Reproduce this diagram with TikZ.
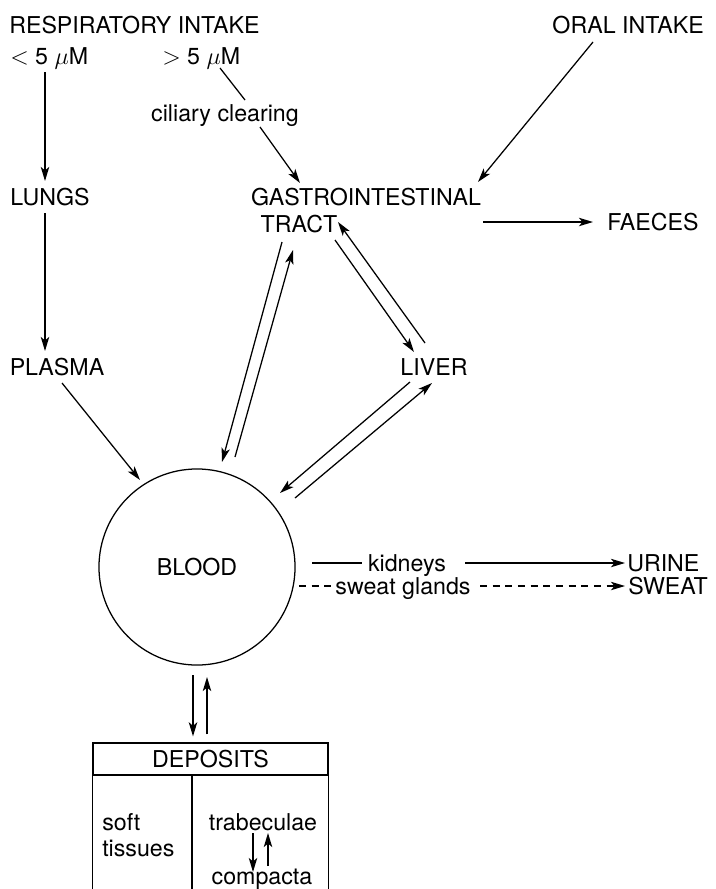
\documentclass[tikz,border=0pt]{standalone}
\usepackage{fontspec}
\setmainfont{TeX Gyre Heros}
\usetikzlibrary{arrows.meta}
\tikzset{
  lbl/.style={font=\fontsize{16.5}{19}\selectfont, inner sep=0pt, anchor=base},
  ln/.style={line width=0.9pt},
  arr/.style={ln, -{Stealth[length=10pt,width=6pt,inset=2.5pt]}},
  dsh/.style={arr, dash pattern=on 5pt off 4pt},
}
\begin{document}
\begin{tikzpicture}[x=0.025cm, y=-0.025cm]
\useasboundingbox (0,0) rectangle (716,889);
% intakes
\node[lbl, anchor=base west] (resp) at (9,33) {RESPIRATORY INTAKE};
\node[lbl, anchor=base west] (small) at (10,64) {$<$ 5 $\mu$M};
\node[lbl, anchor=base west] (large) at (162,64) {$>$ 5 $\mu$M};
\node[lbl, anchor=base east] (oral) at (704,33) {ORAL INTAKE};
\node[lbl] (ciliary) at (225,121) {ciliary clearing};
% organs
\node[lbl] (lungs) at (50,205) {LUNGS};
\node[lbl] (git) at (366,205) {GASTROINTESTINAL};
\node[lbl] (tract) at (299,232) {TRACT};
\node[lbl, anchor=base west] (faeces) at (607,230) {FAECES};
\node[lbl] (plasma) at (57,375) {PLASMA};
\node[lbl] (liver) at (434,375) {LIVER};
% blood pool
\node[ln, draw, circle, minimum size=4.9cm, inner sep=0pt, font=\fontsize{16.5}{19}\selectfont] (blood) at (197,567) {BLOOD};
% excretion
\node[lbl] (kidneys) at (407,571) {kidneys};
\node[lbl, anchor=base west] (urine) at (627,571) {URINE};
\node[lbl] (sweatgl) at (403,594) {sweat glands};
\node[lbl, anchor=base west] (sweat) at (628,594) {SWEAT};
% deposits table
\node[ln, draw, minimum width=5.875cm, minimum height=0.8cm, inner sep=0pt, font=\fontsize{16.5}{19}\selectfont] (deposits) at (210.5,759) {DEPOSITS};
\coordinate (bot) at (0,889);
\coordinate (div) at ([shift={(-18.5,0)}]deposits.south);
\draw[ln] (deposits.south west) -- (deposits.south west |- bot);
\draw[ln] (deposits.south east) -- (deposits.south east |- bot);
\draw[ln] (div) -- (div |- bot);
\node[lbl, anchor=base west] (soft) at (102,830) {soft};
\node[lbl, anchor=base west] (tissues) at (102,856) {tissues};
\node[lbl] (trab) at (263,830) {trabeculae};
\node[lbl] (comp) at (262,884) {compacta};
% respiratory paths
\draw[arr] ([shift={(35,8)}]small.base west) -- ([shift={(-5,-24)}]lungs.base);
\draw[arr] ([shift={(-5,8)}]lungs.base) -- ([shift={(-12,-24)}]plasma.base);
\draw[arr] ([shift={(5,8)}]plasma.base) -- ([shift={(-57,-87)}]blood.center);
\draw[ln] ([shift={(58,4)}]large.base west) -- ([shift={(20,-21)}]ciliary.base);
\draw[arr] ([shift={(35,6)}]ciliary.base) -- ([shift={(-66,-22)}]git.base);
% oral path and faeces
\draw[arr] ([shift={(-111,9)}]oral.base east) -- ([shift={(112,-23)}]git.base);
\draw[arr] ([shift={(117,17)}]git.base) -- ([shift={(-14,-8)}]faeces.base west);
% tract <-> liver
\draw[arr] ([shift={(36,8)}]tract.base) -- ([shift={(-20,-23)}]liver.base);
\draw[arr] ([shift={(-9,-32)}]liver.base) -- ([shift={(39,-10)}]tract.base);
% tract <-> blood
\draw[arr] ([shift={(-17,10)}]tract.base) -- ([shift={(25,-105)}]blood.center);
\draw[arr] ([shift={(38,-110)}]blood.center) -- ([shift={(-6,18)}]tract.base);
% liver <-> blood
\draw[arr] ([shift={(-24,7)}]liver.base) -- ([shift={(83,-74)}]blood.center);
\draw[arr] ([shift={(98,-69)}]blood.center) -- ([shift={(-2,8)}]liver.base);
% urine and sweat
\draw[ln] ([shift={(115,-4)}]blood.center) -- ([shift={(-45,-8)}]kidneys.base);
\draw[arr] ([shift={(58,-8)}]kidneys.base) -- ([shift={(-2,-8)}]urine.base west);
\draw[ln, dash pattern=on 5pt off 4pt] ([shift={(102,19)}]blood.center) -- ([shift={(-70,-8)}]sweatgl.base);
\draw[dsh] ([shift={(77,-8)}]sweatgl.base) -- ([shift={(-3,-8)}]sweat.base west);
% blood <-> deposits
\draw[arr] ([shift={(-4,108)}]blood.center) -- ([shift={(-17.5,-6)}]deposits.north);
\draw[arr] ([shift={(-3.5,-8)}]deposits.north) -- ([shift={(10,110)}]blood.center);
% trabeculae <-> compacta
\draw[arr] ([shift={(-10,3)}]trab.base) -- ([shift={(-9,-12)}]comp.base);
\draw[arr] ([shift={(6,-18)}]comp.base) -- ([shift={(5,3)}]trab.base);
\end{tikzpicture}
\end{document}
